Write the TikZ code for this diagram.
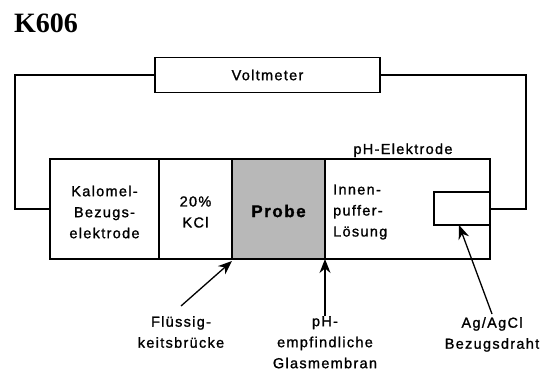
\documentclass[tikz,border=0pt]{standalone}
\usepackage{fontspec}
\setmainfont{Liberation Sans}[LetterSpace=9,FakeBold=1.2]
\newfontfamily\titelfont{Liberation Serif}
\usepackage{tikz}
\usetikzlibrary{arrows.meta,positioning}

\begin{document}
\begin{tikzpicture}[x=1pt,y=-1pt,font=\fontsize{14.5}{21}\selectfont,
	zelle/.style={draw,line width=1.5pt,minimum height=100pt,outer sep=0pt,inner sep=0pt},
	zelltext/.style={align=center,inner sep=0pt,yshift=-3pt},
	kasten/.style={draw,line width=1.6pt,outer sep=0pt,inner sep=0pt},
	draht/.style={line width=1.6pt},
	beschriftung/.style={align=center,inner sep=0pt,anchor=north},
	pfeil/.style={line width=1.3pt,-{Stealth[length=14pt,width=11pt]}}]
	\useasboundingbox (0,0) rectangle (554,372);
	\node[anchor=base west,inner sep=0pt,font=\titelfont\bfseries\fontsize{28}{30}\selectfont] (titel) at (14,32) {K606};
	\node[kasten,minimum width=225pt,minimum height=35pt] (voltmeter) at (267.5,75) {Voltmeter};
	% Messzelle
	\node[zelle,minimum width=109pt] (kalomel) at (104.5,209) {};
	\node[zelle,minimum width=73pt,right=0pt of kalomel] (kcl) {};
	\node[zelle,minimum width=93pt,right=0pt of kcl,fill=black!28] (probe) {};
	\node[zelle,minimum width=165pt,right=0pt of probe] (innen) {};
	\draw[line width=2.6pt] (kalomel.north west) rectangle (innen.south east);
	\node[kasten,minimum width=56pt,minimum height=33pt] (agdraht) at (462,208.5) {};
	\node[zelltext] (kalomeltext) at (kalomel) {Kalomel-\\Bezugs-\\elektrode};
	\node[zelltext] (kcltext) at (kcl) {20\%\\KCl};
	\node[zelltext,yshift=1pt,font=\fontsize{17}{21}\selectfont\bfseries] (probetext) at (probe) {Probe};
	\node[zelltext,align=left,anchor=west] (innentext) at ([xshift=8pt]innen.west) {Innen-\\puffer-\\Lösung};
	\node[anchor=base,inner sep=0pt] (phelektrode) at (403,154) {pH-Elektrode};
	% Leitungen zum Voltmeter
	\draw[draht] (voltmeter.west) -| ([xshift=-35pt]kalomel.west) -- (kalomel.west);
	\draw[draht] (voltmeter.east) -| ([xshift=36pt]innen.east) -- (innen.east);
	% Beschriftungen unten
	\node[beschriftung] (fluessig) at (181,316) {Flüssig-\\keitsbrücke};
	\node[beschriftung] (membran) at (325,316) {pH-\\empfindliche\\Glasmembran};
	\node[beschriftung] (agagcl) at (492,317) {Ag/AgCl\\Bezugsdraht};
	\draw[pfeil] ([yshift=10pt]fluessig.north) -- ([yshift=-2pt]kcl.south east);
	\draw[pfeil] (membran.north) -- (probe.south east);
	\draw[pfeil] ([yshift=3pt]agagcl.north) -- ([xshift=-3pt]agdraht.south);
\end{tikzpicture}
\end{document}
